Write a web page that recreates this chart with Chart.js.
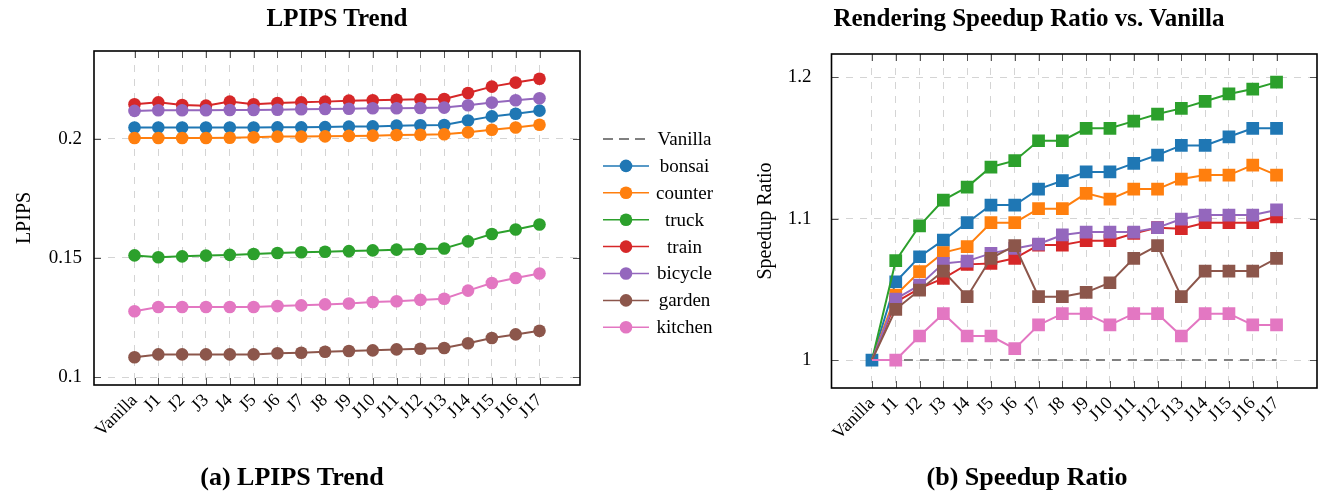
<!DOCTYPE html>
<html>
<head>
<meta charset="utf-8">
<script src="https://cdn.jsdelivr.net/npm/chart.js@4/dist/chart.umd.min.js"></script>
<style>
  body { margin: 0; background: #fff; font-family: 'Liberation Serif', serif; }
  #wrap { position: relative; width: 1319px; height: 500px; overflow: hidden; }
  .box { position: absolute; top: 0; }
  .txt { position: absolute; transform: translateX(-50%); white-space: nowrap;
         font-weight: bold; color: #000; line-height: 1; }
</style>
</head>
<body>
<div id="wrap">
  <div class="box" style="left:0"><canvas id="lpipsChart" width="730" height="500"></canvas></div>
  <div class="box" style="left:730px"><canvas id="ratioChart" width="596" height="500"></canvas></div>
  <div class="txt" style="left:337px; top:5px; font-size:25px">LPIPS Trend</div>
  <div class="txt" style="left:1029px; top:5px; font-size:25px">Rendering Speedup Ratio vs. Vanilla</div>
  <div class="txt" style="left:292px; top:464px; font-size:26px">(a) LPIPS Trend</div>
  <div class="txt" style="left:1027px; top:464px; font-size:26px">(b) Speedup Ratio</div>
</div>
<script>
const xLabels = ['Vanilla', 'J1', 'J2', 'J3', 'J4', 'J5', 'J6', 'J7', 'J8', 'J9',
                 'J10', 'J11', 'J12', 'J13', 'J14', 'J15', 'J16', 'J17'];
const scenes = ['bonsai', 'counter', 'truck', 'train', 'bicycle', 'garden', 'kitchen'];
const sceneColors = ['#1f77b4', '#ff7f0e', '#2ca02c', '#d62728', '#9467bd', '#8c564b', '#e377c2'];
const vanillaColor = '#808080';

// LPIPS per scene
const lpipsBonsai  = [0.2048, 0.2048, 0.2048, 0.2048, 0.2048, 0.2048, 0.2049, 0.2049, 0.2050, 0.2052, 0.2053, 0.2056, 0.2058, 0.2059, 0.2078, 0.2095, 0.2106, 0.2119];
const lpipsCounter = [0.2004, 0.2004, 0.2004, 0.2004, 0.2005, 0.2007, 0.2010, 0.2010, 0.2011, 0.2013, 0.2014, 0.2017, 0.2018, 0.2020, 0.2028, 0.2039, 0.2048, 0.2060];
const lpipsTruck   = [0.1511, 0.1503, 0.1507, 0.1510, 0.1513, 0.1517, 0.1521, 0.1524, 0.1526, 0.1529, 0.1532, 0.1535, 0.1538, 0.1540, 0.1570, 0.1601, 0.1620, 0.1641];
const lpipsTrain   = [0.2146, 0.2154, 0.2143, 0.2140, 0.2157, 0.2146, 0.2151, 0.2154, 0.2157, 0.2161, 0.2163, 0.2165, 0.2167, 0.2168, 0.2193, 0.2220, 0.2237, 0.2253];
const lpipsBicycle = [0.2118, 0.2121, 0.2121, 0.2121, 0.2122, 0.2122, 0.2123, 0.2125, 0.2126, 0.2127, 0.2129, 0.2129, 0.2130, 0.2132, 0.2142, 0.2153, 0.2163, 0.2171];
const lpipsGarden  = [0.1083, 0.1095, 0.1095, 0.1095, 0.1095, 0.1095, 0.1100, 0.1102, 0.1106, 0.1109, 0.1112, 0.1116, 0.1119, 0.1122, 0.1142, 0.1164, 0.1179, 0.1194];
const lpipsKitchen = [0.1276, 0.1294, 0.1294, 0.1294, 0.1294, 0.1294, 0.1298, 0.1301, 0.1305, 0.1309, 0.1315, 0.1318, 0.1324, 0.1329, 0.1363, 0.1395, 0.1416, 0.1435];

// speedup ratio per scene
const ratioVanilla = [1, 1, 1, 1, 1, 1, 1, 1, 1, 1, 1, 1, 1, 1, 1, 1, 1, 1];
const ratioBonsai  = [1, 1.0554, 1.0731, 1.0849, 1.0972, 1.1097, 1.1097, 1.1210, 1.1269, 1.1331, 1.1331, 1.1392, 1.1451, 1.1519, 1.1519, 1.1580, 1.1640, 1.1640];
const ratioCounter = [1, 1.0460, 1.0625, 1.0760, 1.0802, 1.0972, 1.0972, 1.1071, 1.1071, 1.1180, 1.1139, 1.1210, 1.1210, 1.1281, 1.1309, 1.1309, 1.1380, 1.1309];
const ratioTruck   = [1, 1.0703, 1.0950, 1.1132, 1.1224, 1.1366, 1.1411, 1.1552, 1.1552, 1.1640, 1.1640, 1.1691, 1.1741, 1.1781, 1.1831, 1.1883, 1.1918, 1.1967];
const ratioTrain   = [1, 1.0410, 1.0507, 1.0578, 1.0677, 1.0684, 1.0720, 1.0814, 1.0814, 1.0845, 1.0845, 1.0896, 1.0937, 1.0930, 1.0972, 1.0972, 1.0972, 1.1014];
const ratioBicycle = [1, 1.0432, 1.0530, 1.0684, 1.0700, 1.0755, 1.0790, 1.0821, 1.0885, 1.0906, 1.0906, 1.0906, 1.0937, 1.0998, 1.1026, 1.1026, 1.1026, 1.1062];
const ratioGarden  = [1, 1.0359, 1.0495, 1.0630, 1.0448, 1.0720, 1.0809, 1.0448, 1.0448, 1.0479, 1.0547, 1.0720, 1.0809, 1.0448, 1.0630, 1.0630, 1.0630, 1.0720];
const ratioKitchen = [1, 1.0000, 1.0170, 1.0328, 1.0170, 1.0170, 1.0080, 1.0248, 1.0328, 1.0328, 1.0248, 1.0328, 1.0328, 1.0170, 1.0328, 1.0328, 1.0248, 1.0248];

const lpipsTicks = [0.1, 0.15, 0.2];
const ratioTicks = [1, 1.1, 1.2];

const lpipsSeries = [lpipsBonsai, lpipsCounter, lpipsTruck, lpipsTrain, lpipsBicycle, lpipsGarden, lpipsKitchen];
const ratioSeries = [ratioBonsai, ratioCounter, ratioTruck, ratioTrain, ratioBicycle, ratioGarden, ratioKitchen];

const FONT = 'Liberation Serif';
const GRID = '#d4d4d4';

function toPoints(values) {
    return values.map((v, i) => ({ x: i, y: v }));
}

// frame round the plot area plus short inward tick marks
const framePlugin = {
    id: 'frame',
    afterDraw(chart) {
        const { ctx, chartArea: a, scales } = chart;
        ctx.save();
        ctx.strokeStyle = '#555';
        ctx.lineWidth = 1;
        ctx.beginPath();
        scales.x.ticks.forEach(t => {
            const px = Math.round(scales.x.getPixelForValue(t.value)) + 0.5;
            ctx.moveTo(px, a.top); ctx.lineTo(px, a.top + 7);
            ctx.moveTo(px, a.bottom); ctx.lineTo(px, a.bottom - 7);
        });
        scales.y.ticks.forEach(t => {
            const py = Math.round(scales.y.getPixelForValue(t.value)) + 0.5;
            ctx.moveTo(a.left, py); ctx.lineTo(a.left + 7, py);
            ctx.moveTo(a.right, py); ctx.lineTo(a.right - 7, py);
        });
        ctx.stroke();
        ctx.strokeStyle = '#000';
        ctx.lineWidth = 1.6;
        ctx.strokeRect(a.left, a.top, a.right - a.left, a.bottom - a.top);
        ctx.restore();
    }
};

// legend next to the LPIPS plot, text centred like the original
const legendPlugin = {
    id: 'sideLegend',
    afterDraw(chart) {
        const ctx = chart.ctx;
        const names = ['Vanilla'].concat(scenes);
        const cols = [vanillaColor].concat(sceneColors);
        ctx.save();
        ctx.font = '19px "' + FONT + '"';
        ctx.textAlign = 'center';
        ctx.textBaseline = 'middle';
        names.forEach((name, i) => {
            const y = 139 + i * 26.9;
            ctx.strokeStyle = cols[i];
            ctx.beginPath();
            if (i === 0) {
                ctx.lineWidth = 2;
                ctx.setLineDash([10, 6]);
            } else {
                ctx.lineWidth = 1.5;
                ctx.setLineDash([]);
            }
            ctx.moveTo(603, y); ctx.lineTo(649, y);
            ctx.stroke();
            ctx.setLineDash([]);
            if (i > 0) {
                ctx.fillStyle = cols[i];
                ctx.beginPath();
                ctx.arc(626, y, 6.3, 0, Math.PI * 2);
                ctx.fill();
            }
            ctx.fillStyle = '#000';
            ctx.fillText(name, 684.5, y + 1);
        });
        ctx.restore();
    }
};

function xScale(height) {
    return {
        type: 'linear',
        min: -1.7,
        max: 18.7,
        afterBuildTicks: s => { s.ticks = xLabels.map((_, i) => ({ value: i })); },
        afterFit: s => { s.height = height; },
        ticks: {
            autoSkip: false,
            minRotation: 45,
            maxRotation: 45,
            padding: 5,
            color: '#000',
            font: { family: FONT, size: 18 },
            callback: v => xLabels[v]
        },
        grid: { color: GRID, lineWidth: 1, drawTicks: false },
        border: { display: false, dash: [7, 7] }
    };
}

function yScale(min, max, tickVals, width, title, titlePad, tickPad) {
    return {
        type: 'linear',
        min: min,
        max: max,
        afterBuildTicks: s => { s.ticks = tickVals.map(v => ({ value: v })); },
        afterFit: s => { s.width = width; },
        title: {
            display: true,
            text: title,
            color: '#000',
            font: { family: FONT, size: 20 },
            padding: { top: titlePad, bottom: 0 }
        },
        ticks: {
            padding: tickPad,
            color: '#000',
            font: { family: FONT, size: 19 },
            callback: v => String(v)
        },
        grid: { color: GRID, lineWidth: 1, drawTicks: false },
        border: { display: false, dash: [7, 7] }
    };
}

// LPIPS TREND

new Chart(document.getElementById('lpipsChart'), {
    type: 'line',
    data: {
        datasets: lpipsSeries.map((vals, i) => ({
            label: scenes[i],
            data: toPoints(vals),
            borderColor: sceneColors[i],
            backgroundColor: sceneColors[i],
            borderWidth: 2,
            pointRadius: 6.3,
            pointBorderWidth: 0,
            pointStyle: 'circle',
            tension: 0,
            order: -i
        }))
    },
    options: {
        responsive: false,
        animation: false,
        events: [],
        layout: { padding: { left: 0, right: 150, top: 51, bottom: 0 } },
        plugins: { legend: { display: false }, tooltip: { enabled: false } },
        scales: {
            x: xScale(115),
            y: yScale(0.09664, 0.23697, lpipsTicks, 94, 'LPIPS', 13, 12)
        }
    },
    plugins: [framePlugin, legendPlugin]
});

// SPEEDUP RATIO

const ratioDatasets = [{
    label: 'Vanilla',
    data: toPoints(ratioVanilla),
    borderColor: vanillaColor,
    borderWidth: 2,
    borderDash: [9, 7],
    pointRadius: 0,
    tension: 0,
    order: 10
}].concat(ratioSeries.map((vals, i) => ({
    label: scenes[i],
    data: toPoints(vals),
    borderColor: sceneColors[i],
    backgroundColor: sceneColors[i],
    borderWidth: 2,
    pointStyle: 'rect',
    // only bonsai keeps its marker on the shared Vanilla point
    pointRadius: c => (c.dataIndex === 0 && i > 0) ? 0 : 9,
    pointBorderWidth: 0,
    tension: 0,
    order: -i
})));

new Chart(document.getElementById('ratioChart'), {
    type: 'line',
    data: { datasets: ratioDatasets },
    options: {
        responsive: false,
        animation: false,
        events: [],
        layout: { padding: { left: 0, right: 2, top: 54, bottom: 0 } },
        plugins: { legend: { display: false }, tooltip: { enabled: false } },
        scales: {
            x: xScale(112),
            y: yScale(0.9802, 1.2166, ratioTicks, 101.5, 'Speedup Ratio', 24, 20)
        }
    },
    plugins: [framePlugin]
});
</script>
</body>
</html>
